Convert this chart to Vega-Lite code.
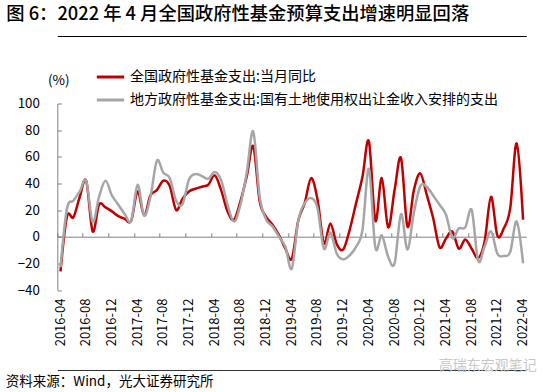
{
  "$schema": "https://vega.github.io/schema/vega-lite/v6.json",
  "width": 469,
  "height": 186.5,
  "autosize": {"type": "none"},
  "padding": {"left": 57.3, "top": 103.5, "right": 23.7, "bottom": 102},
  "config": {"font": "Noto Sans CJK SC", "view": {"stroke": null}},
  "title": {
    "text": "图 6：2022 年 4 月全国政府性基金预算支出增速明显回落",
    "anchor": "start",
    "frame": "group",
    "dx": -51,
    "offset": 12,
    "fontSize": 18.3,
    "fontWeight": 500,
    "color": "#000000"
  },
  "data": {
    "values": [
      {"m": "2016-04", "a": -26, "b": -23},
      {"m": "2016-05", "a": 15, "b": 21},
      {"m": "2016-06", "a": 14.5, "b": 27},
      {"m": "2016-07", "a": 30, "b": 34},
      {"m": "2016-08", "a": 42, "b": 42},
      {"m": "2016-09", "a": 4, "b": 11},
      {"m": "2016-10", "a": 24, "b": 30},
      {"m": "2016-11", "a": 22, "b": 42},
      {"m": "2016-12", "a": 19, "b": 31},
      {"m": "2017-01", "a": 15.5, "b": 24},
      {"m": "2017-02", "a": 13.5, "b": 17},
      {"m": "2017-03", "a": 12, "b": 12},
      {"m": "2017-04", "a": 34, "b": 39},
      {"m": "2017-05", "a": 16, "b": 16},
      {"m": "2017-06", "a": 31, "b": 30},
      {"m": "2017-07", "a": 35, "b": 57},
      {"m": "2017-08", "a": 42, "b": 48},
      {"m": "2017-09", "a": 38, "b": 44},
      {"m": "2017-10", "a": 20, "b": 27},
      {"m": "2017-11", "a": 28.6, "b": 24.5},
      {"m": "2017-12", "a": 34, "b": 43},
      {"m": "2018-01", "a": 36, "b": 47},
      {"m": "2018-02", "a": 37.5, "b": 45.5},
      {"m": "2018-03", "a": 39, "b": 43.5},
      {"m": "2018-04", "a": 46, "b": 48.6},
      {"m": "2018-05", "a": 35, "b": 42.5},
      {"m": "2018-06", "a": 19, "b": 24},
      {"m": "2018-07", "a": 12.7, "b": 11.4},
      {"m": "2018-08", "a": 26.6, "b": 24},
      {"m": "2018-09", "a": 45.6, "b": 48.6},
      {"m": "2018-10", "a": 68, "b": 79},
      {"m": "2018-11", "a": 26.6, "b": 30},
      {"m": "2018-12", "a": 15, "b": 13},
      {"m": "2019-01", "a": 9, "b": 7.6},
      {"m": "2019-02", "a": 1.3, "b": 0},
      {"m": "2019-03", "a": -9, "b": -7.6},
      {"m": "2019-04", "a": -16.5, "b": -24},
      {"m": "2019-05", "a": 12, "b": 12},
      {"m": "2019-06", "a": 25, "b": 25},
      {"m": "2019-07", "a": 44, "b": 29},
      {"m": "2019-08", "a": 28, "b": 21.5},
      {"m": "2019-09", "a": -5, "b": -9},
      {"m": "2019-10", "a": 10, "b": 3},
      {"m": "2019-11", "a": -5.6, "b": -12.7},
      {"m": "2019-12", "a": -9.6, "b": -17},
      {"m": "2020-01", "a": 5, "b": -14},
      {"m": "2020-02", "a": 25, "b": -7.6},
      {"m": "2020-03", "a": 45, "b": 5},
      {"m": "2020-04", "a": 71.6, "b": 51},
      {"m": "2020-05", "a": 12, "b": -8},
      {"m": "2020-06", "a": 44, "b": 1},
      {"m": "2020-07", "a": 7, "b": -15},
      {"m": "2020-08", "a": 35, "b": -20},
      {"m": "2020-09", "a": 59, "b": 17},
      {"m": "2020-10", "a": 7.6, "b": -9.6},
      {"m": "2020-11", "a": 35, "b": 18},
      {"m": "2020-12", "a": 47.6, "b": 38},
      {"m": "2021-01", "a": 31.6, "b": 37.5},
      {"m": "2021-02", "a": 14, "b": 31},
      {"m": "2021-03", "a": -8, "b": 24},
      {"m": "2021-04", "a": -1.3, "b": 16.5},
      {"m": "2021-05", "a": 3.8, "b": -1},
      {"m": "2021-06", "a": -9, "b": 6.3},
      {"m": "2021-07", "a": -2, "b": 7},
      {"m": "2021-08", "a": -9, "b": 20},
      {"m": "2021-09", "a": -16, "b": -18},
      {"m": "2021-10", "a": -4, "b": -7.6},
      {"m": "2021-11", "a": 30, "b": 4},
      {"m": "2021-12", "a": 0.8, "b": -12.7},
      {"m": "2022-01", "a": 6.3, "b": -14.4},
      {"m": "2022-02", "a": 21.5, "b": -11.4},
      {"m": "2022-03", "a": 70, "b": 11.4},
      {"m": "2022-04", "a": 12.7, "b": -20}
    ]
  },
  "transform": [{"fold": ["a", "b"], "as": ["s", "v"]}],
  "layer": [
    {
      "mark": {"type": "line", "interpolate": "cardinal", "strokeWidth": 2.5},
      "encoding": {
        "x": {
          "field": "m", "type": "ordinal", "sort": null, "bandPosition": 0.5,
          "scale": {"type": "band", "paddingInner": 0, "paddingOuter": 0},
          "axis": {
            "orient": "bottom",
            "values": ["2016-04","2016-08","2016-12","2017-04","2017-08","2017-12","2018-04","2018-08","2018-12","2019-04","2019-08","2019-12","2020-04","2020-08","2020-12","2021-04","2021-08","2021-12","2022-04"],
            "labelAngle": 270, "domain": false, "ticks": false, "labelPadding": 8,
            "labelFontSize": 13, "labelColor": "#000000", "labelOverlap": false,
            "title": "资料来源：Wind，光大证券研究所",
            "titleX": -52, "titleY": 91, "titleAlign": "left", "titleBaseline": "middle",
            "titleAngle": 0, "titleFontSize": 13.5, "titleFontWeight": "normal", "titleColor": "#000000"
          }
        },
        "y": {
          "field": "v", "type": "quantitative",
          "scale": {"domain": [-40, 100], "nice": false, "zero": false},
          "axis": {
            "values": [-40, -20, 0, 20, 40, 60, 80, 100],
            "tickCount": 8,
            "grid": false, "domainColor": "#808080", "tickColor": "#808080",
            "labelOverlap": false, "labelFlush": false,
            "tickSize": -4, "labelPadding": 22, "labelFontSize": 13.3, "labelColor": "#000000",
            "title": "(%)", "titleAngle": 0, "titleX": 1, "titleY": -23,
            "titleAlign": "center", "titleBaseline": "middle", "titleFontSize": 13.5,
            "titleFontWeight": "normal", "titleColor": "#000000"
          }
        },
        "color": {
          "field": "s", "type": "nominal",
          "scale": {"domain": ["a", "b"], "range": ["#C00000", "#A6A6A6"]},
          "legend": {
            "orient": "none", "legendX": 37.7, "legendY": -42, "title": null,
            "symbolType": "stroke", "symbolSize": 750, "symbolStrokeWidth": 3,
            "labelFontSize": 14, "labelColor": "#000000", "labelOffset": 4,
            "rowPadding": -5.4, "labelLimit": 600,
            "labelExpr": "datum.label == 'a' ? '全国政府性基金支出:当月同比' : '地方政府性基金支出:国有土地使用权出让金收入安排的支出'"
          }
        }
      }
    },
    {
      "mark": {"type": "line", "strokeOpacity": 0},
      "encoding": {
        "x": {
          "field": "m", "type": "ordinal", "sort": null,
          "axis": {
            "orient": "top", "offset": -133.2,
            "values": ["2016-04","2016-08","2016-12","2017-04","2017-08","2017-12","2018-04","2018-08","2018-12","2019-04","2019-08","2019-12","2020-04","2020-08","2020-12","2021-04","2021-08","2021-12","2022-04"],
            "bandPosition": 0, "labels": false, "domainColor": "#808080", "tickColor": "#808080",
            "tickSize": 4, "title": null, "grid": false
          }
        },
        "y": {"field": "v", "type": "quantitative", "axis": null},
        "detail": {"field": "s"}
      }
    },
    {
      "mark": {"type": "line", "strokeOpacity": 0},
      "encoding": {
        "x": {
          "field": "m", "type": "ordinal", "sort": null,
          "axis": {
            "orient": "top", "offset": 67.5, "labels": false, "ticks": false,
            "domainColor": "#000000", "domainWidth": 1.2, "title": null, "grid": false
          }
        },
        "y": {"field": "v", "type": "quantitative", "axis": null},
        "detail": {"field": "s"}
      }
    },
    {
      "mark": {"type": "line", "strokeOpacity": 0},
      "encoding": {
        "x": {
          "field": "m", "type": "ordinal", "sort": null,
          "axis": {
            "orient": "top", "offset": -266.5, "labels": false, "ticks": false,
            "domainColor": "#333333", "domainWidth": 1.2, "grid": false,
            "title": "高瑞东宏观笔记", "titleX": 430, "titleY": -5, "titleAlign": "center",
            "titleBaseline": "middle", "titleAngle": 0, "titleFontSize": 14,
            "titleFontWeight": "normal", "titleColor": "#c8c8c8"
          }
        },
        "y": {"field": "v", "type": "quantitative", "axis": null},
        "detail": {"field": "s"}
      }
    }
  ],
  "resolve": {"axis": {"x": "independent", "y": "independent"}}
}
